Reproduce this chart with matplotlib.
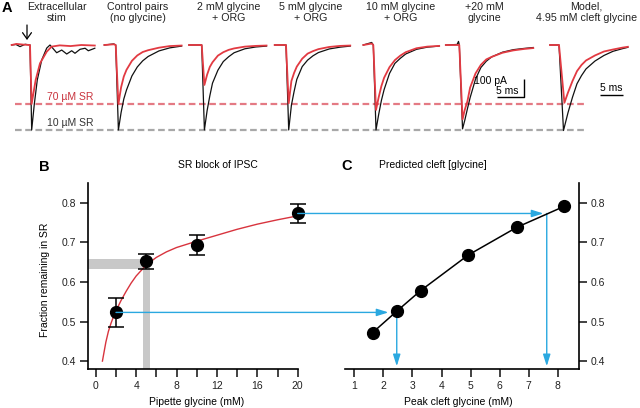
import matplotlib
matplotlib.use('Agg')
import matplotlib.pyplot as plt
from matplotlib.patches import ConnectionPatch
import numpy as np

plt.rcParams['font.family'] = ['Liberation Sans', 'DejaVu Sans']

# ------------------------------------------------------------------ data
# Panel A: IPSC traces (t in ms from current onset, I in pA)
ext_t_black = [-3.4, -2.6, -1.85, -0.9, 0.0, 0.31, 0.8, 1.35, 2.17, 3.1, 3.7, 4.94, 5.87, 6.8, 7.72, 8.33, 9.26, 10.2, 10.8, 12.0]
ext_black = [0, 3, -9, 4, 0, -472, -328, -194, -83, -17, 0, -43, -28, -50, -32, -46, -24, -18, -32, -18]
ext_t_red = [-3.4, -2.5, -1.2, 0.0, 0.3, 1.05, 1.85, 3.1, 4.0, 5.5, 7.5, 9.5, 12.0]
ext_red = [0, 6, 2, 0, -328, -194, -102, -37, -9, -2, -6, 0, -3]

ctrl_t = [-2.1, -0.35, 0.0, 0.5, 1, 1.5, 2, 3, 4, 5, 6, 8, 10, 12.2]
ctrl_black = [0, 6, 0, -472, -375, -300, -250, -172, -122, -88, -64, -33, -16, -6]
ctrl_red = [0, 4, 0, -328, -235, -175, -138, -88, -58, -39, -29, -15, -6, -3]

g2_t = [-2.35, 0.0, 0.5, 1, 1.5, 2, 3, 4, 5, 6, 8, 10, 12.0]
g2_black = [0, 0, -472, -365, -283, -212, -140, -92, -65, -43, -21, -11, -6]
g2_red = [0, 0, -222, -165, -122, -96, -59, -40, -27, -19, -9, -5, -3]

g5_t = [-2.1, 0.0, 0.5, 1, 1.5, 2, 3, 4, 5, 6, 8, 10, 11.9]
g5_black = [0, 0, -472, -335, -258, -191, -120, -84, -60, -42, -22, -12, -6]
g5_red = [0, 0, -324, -200, -155, -120, -76, -48, -34, -23, -11, -5, -3]

g10_t = [-1.85, -0.3, 0.0, 0.5, 1, 1.5, 2, 3, 4, 5, 6, 8, 10, 12.2]
g10_black = [0, 14, 0, -472, -385, -308, -248, -158, -102, -74, -50, -24, -12, -6]
g10_red = [0, 8, 0, -361, -290, -228, -182, -123, -84, -59, -40, -18, -9, -5]

g20_t_black = [-2.5, -0.4, -0.15, 0.0, 0.6, 1, 1.5, 2, 3, 4, 5, 6, 8, 10, 12, 13.7]
g20_black = [0, 3, 20, 0, -466, -420, -355, -293, -190, -125, -90, -66, -40, -26, -19, -14]
g20_t_red = [-2.5, 0.0, 0.6, 1, 1.5, 2, 3, 4, 5, 6, 8, 10, 12, 13.7]
g20_red = [0, 0, -413, -361, -313, -237, -158, -110, -80, -66, -43, -30, -22, -17]

model_t_black = [-2.0, 0.0, 1.0, 2, 3, 4, 5, 6, 8, 10, 12, 14, 15.3]
model_black = [0, 0, -475, -376, -290, -215, -170, -133, -89, -58, -35, -21, -13]
model_t_red = [-2.0, 0.0, 1.2, 2, 3, 4, 5, 6, 8, 10, 12, 14, 15.3]
model_red = [0, 0, -321, -264, -200, -145, -111, -86, -58, -36, -25, -15, -10]

a_titles = ["Extracellular\nstim", "Control pairs\n(no glycine)", "2 mM glycine\n+ ORG",
            "5 mM glycine\n+ ORG", "10 mM glycine\n+ ORG", "+20 mM\nglycine",
            "Model,\n4.95 mM cleft glycine"]
sr10_level = -472   # peak in 10 uM SR (pA)
sr70_level = -328   # peak in 70 uM SR (pA)
scale_pA = 100
scale_ms = 5

# Panel B: SR block of IPSC
pip_gly = [2, 5, 10, 20]
frac_sr = [0.523, 0.652, 0.693, 0.773]
frac_err = [0.036, 0.019, 0.026, 0.025]
fit_x = [0.66, 0.8, 1.0, 1.25, 1.5, 1.75, 2.0, 2.5, 3.0, 3.5, 4.0, 5.0, 6.0, 7.0, 8.0, 9.0, 10.0, 12.0, 14.0, 16.0, 18.0, 20.0]
fit_y = [0.400, 0.420, 0.448, 0.475, 0.495, 0.512, 0.527, 0.553, 0.576, 0.597, 0.615, 0.643, 0.662, 0.676, 0.687, 0.695, 0.703, 0.718, 0.733, 0.746, 0.757, 0.767]
band_x = [4.65, 5.38]      # 4.95 mM estimate (vertical gray band)
band_y = [0.632, 0.657]    # fraction range (horizontal gray band)

# Panel C: predicted cleft glycine
cleft_x = [1.63, 2.46, 3.28, 4.92, 6.59, 8.22]
cleft_y = [0.472, 0.526, 0.578, 0.668, 0.738, 0.791]
blue_pip = [2, 20]
blue_frac = [0.523, 0.773]
blue_cleft = [2.46, 7.62]

# ------------------------------------------------------------------ layout
W, H = 640, 408
fig = plt.figure(figsize=(6.4, 4.08), dpi=100)

def fx(x):
    return x / W

def fy(y):
    return 1 - y / H

BLACK = '#111111'
RED = '#e23a42'
RED_DASH = '#e47a84'
GRAY_DASH = '#a8a8a8'
BLUE = '#2aa8e0'
GRAY_BAND = '#c8c8c8'

# ---------------- Panel A
px_per_ms = 5.4
px_per_pA = 0.18
base_px = 45
axA = fig.add_axes([0, fy(140), 1, 140 / H])
axA.set_xlim(0, W / px_per_ms)
axA.set_ylim(-(140 - base_px) / px_per_pA, base_px / px_per_pA)
axA.axis('off')

onset_px = [30, 115.7, 201.7, 286, 373.3, 459.3, 559.0]
model_scale = 4.5 / 5.4
panels = [
    (ext_t_black, ext_black, ext_t_red, ext_red, 1.0),
    (ctrl_t, ctrl_black, ctrl_t, ctrl_red, 1.0),
    (g2_t, g2_black, g2_t, g2_red, 1.0),
    (g5_t, g5_black, g5_t, g5_red, 1.0),
    (g10_t, g10_black, g10_t, g10_red, 1.0),
    (g20_t_black, g20_black, g20_t_red, g20_red, 1.0),
    (model_t_black, model_black, model_t_red, model_red, model_scale),
]
for (tb, ib, tr, ir, sc), ox in zip(panels, onset_px):
    t0 = ox / px_per_ms
    axA.plot(t0 + np.array(tb) * sc, ib, color=BLACK, lw=0.9, zorder=3,
             solid_joinstyle='round')
    axA.plot(t0 + np.array(tr) * sc, ir, color=RED, lw=1.3, zorder=4,
             solid_joinstyle='round')

x_dash0, x_dash1 = 15 / px_per_ms, 587 / px_per_ms
axA.plot([x_dash0, x_dash1], [sr70_level] * 2, color=RED_DASH, lw=1.6,
         ls=(0, (3, 1.6)), zorder=2)
axA.plot([x_dash0, x_dash1], [sr10_level] * 2, color=GRAY_DASH, lw=1.6,
         ls=(0, (3, 1.6)), zorder=2)

title_cx = [57, 137.5, 228.5, 311, 401, 484, 586.7]
for txt, cx in zip(a_titles, title_cx):
    fig.text(fx(cx), fy(1.5), txt, ha='center', va='top', fontsize=7.7,
             linespacing=1.15, color='#222222')

fig.text(fx(70), fy(96.5), '70 µM SR', ha='center', va='center', fontsize=7.5,
         color='#c8323c')
fig.text(fx(70), fy(123.5), '10 µM SR', ha='center', va='center', fontsize=7.5,
         color='#333333')

axA.annotate('', xy=(fx(27), fy(40)), xytext=(fx(27), fy(25)),
             xycoords='figure fraction', textcoords='figure fraction',
             arrowprops=dict(arrowstyle='->,head_length=0.45,head_width=0.32',
                             lw=0.9, color='k', shrinkA=0, shrinkB=0))

# scale bars
sb_x = 524 / px_per_ms
sb_y = -(97 - base_px) / px_per_pA
axA.plot([sb_x - scale_ms, sb_x, sb_x], [sb_y, sb_y, sb_y + scale_pA],
         color='k', lw=1.0, solid_capstyle='butt')
fig.text(fx(507), fy(81.5), '100 pA', ha='right', va='center', fontsize=7.5)
fig.text(fx(507), fy(90.5), '5 ms', ha='center', va='center', fontsize=7.5)

msb_x = 600 / px_per_ms
msb_y = -(95 - base_px) / px_per_pA
axA.plot([msb_x, msb_x + scale_ms * model_scale], [msb_y, msb_y], color='k', lw=1.0,
         solid_capstyle='butt')
fig.text(fx(611), fy(88), '5 ms', ha='center', va='center', fontsize=7.5)

fig.text(fx(6.7), fy(7.5), 'A', ha='center', va='center', fontsize=10.5,
         fontweight='bold')

# ---------------- Panel B
axB = fig.add_axes([fx(87.7), fy(369), 210 / W, 186 / H])
axB.set_xlim(-0.8, 20)
axB.set_ylim(0.38, 0.85)
for s in ['top', 'right']:
    axB.spines[s].set_visible(False)
for s in ['left', 'bottom']:
    axB.spines[s].set_linewidth(1.2)
axB.set_xticks(range(0, 21, 2))
axB.set_xticklabels([str(v) if v % 4 == 0 else '' for v in range(0, 21, 2)])
axB.set_yticks([0.4, 0.5, 0.6, 0.7, 0.8])
axB.set_yticklabels(['0.4', '0.5', '0.6', '0.7', '0.8'])
axB.tick_params(direction='out', length=6, width=1.2, labelsize=7.5, pad=2.5,
                colors='#222222')
axB.patch.set_alpha(0)

axB.fill_between([-0.8, 5.0], band_y[0], band_y[1], color=GRAY_BAND, lw=0, zorder=1)
axB.fill_betweenx([0.38, (band_y[0] + band_y[1]) / 2], band_x[0], band_x[1],
                  color=GRAY_BAND, lw=0, zorder=1)
axB.plot(fit_x, fit_y, color='#d8343e', lw=1.0, zorder=3)
eb = axB.errorbar(pip_gly, frac_sr, yerr=frac_err, fmt='o', color='k', ms=8.5,
                  elinewidth=1.1, capsize=5.5, capthick=1.1, zorder=5)
for art in eb.get_children():
    art.set_clip_on(False)

fig.text(fx(218), fy(164.5), 'SR block of IPSC', ha='center', va='center', fontsize=7.5)
fig.text(fx(44), fy(167), 'B', ha='center', va='center', fontsize=10.5, fontweight='bold')
fig.text(fx(45), fy(280), 'Fraction remaining in SR', ha='center', va='center',
         rotation=90, fontsize=7.5)
fig.text(fx(197), fy(402), 'Pipette glycine (mM)', ha='center', va='center', fontsize=7.5)

# ---------------- Panel C
axC = fig.add_axes([fx(345), fy(369), (579.3 - 345) / W, 186 / H])
axC.set_xlim(0.68, 8.74)
axC.set_ylim(0.38, 0.85)
for s in ['top', 'left']:
    axC.spines[s].set_visible(False)
for s in ['right', 'bottom']:
    axC.spines[s].set_linewidth(1.2)
axC.yaxis.tick_right()
axC.set_xticks(range(1, 9))
axC.set_yticks([0.4, 0.5, 0.6, 0.7, 0.8])
axC.set_yticklabels(['0.4', '0.5', '0.6', '0.7', '0.8'])
axC.tick_params(direction='out', length=6, width=1.2, labelsize=7.5, pad=2.5,
                colors='#222222')
axC.patch.set_alpha(0)

axC.plot(cleft_x, cleft_y, '-o', color='k', lw=1.1, ms=8.5, zorder=5, clip_on=False)

arrow_style = '-|>,head_length=0.7,head_width=0.22'
for xp, yv, xc, gap in zip(blue_pip, blue_frac, blue_cleft, [6.0, 2.4]):
    con = ConnectionPatch(xyA=(xp, yv), coordsA=axB.transData,
                          xyB=(xc, yv), coordsB=axC.transData,
                          arrowstyle=arrow_style, mutation_scale=10,
                          color=BLUE, lw=1.0, shrinkA=0, shrinkB=gap, zorder=2)
    fig.add_artist(con)
    axC.annotate('', xy=(xc, 0.387), xytext=(xc, yv),
                 arrowprops=dict(arrowstyle=arrow_style, mutation_scale=10,
                                 color=BLUE, lw=1.0, shrinkA=0, shrinkB=0),
                 annotation_clip=False, zorder=2)

fig.text(fx(433), fy(164.5), 'Predicted cleft [glycine]', ha='center', va='center',
         fontsize=7.5)
fig.text(fx(347), fy(166.5), 'C', ha='center', va='center', fontsize=10.5, fontweight='bold')
fig.text(fx(458), fy(402), 'Peak cleft glycine (mM)', ha='center', va='center', fontsize=7.5)

fig.savefig('out.png', dpi=100)
